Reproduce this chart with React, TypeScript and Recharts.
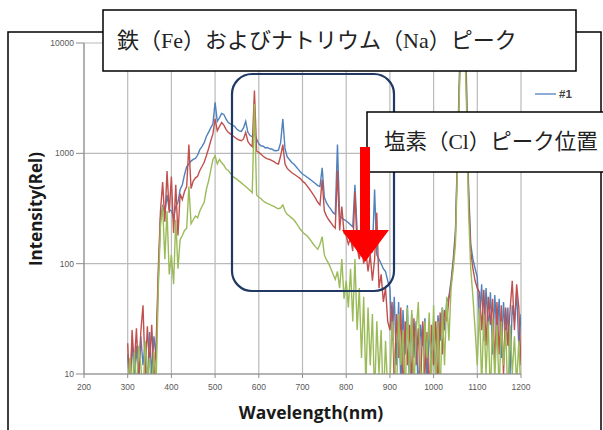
import React from 'react';
import { LineChart, Line, XAxis, YAxis, CartesianGrid } from 'recharts';

const wavelength = [
  300, 305, 310, 315, 320, 325, 330, 335, 340, 345,
  350, 355, 360, 365, 370, 375, 380, 385, 390, 395,
  400, 405, 410, 415, 420, 425, 430, 435, 440, 445,
  450, 455, 460, 465, 470, 475, 480, 485, 490, 495,
  500, 505, 510, 515, 520, 525, 530, 535, 540, 545,
  550, 555, 560, 565, 570, 575, 580, 585, 590, 595,
  600, 605, 610, 615, 620, 625, 630, 635, 640, 645,
  650, 655, 660, 665, 670, 675, 680, 685, 690, 695,
  700, 705, 710, 715, 720, 725, 730, 735, 740, 745,
  750, 755, 760, 765, 770, 775, 780, 785, 790, 795,
  800, 805, 810, 815, 820, 825, 830, 835, 840, 845,
  850, 855, 860, 865, 870, 875, 880, 885, 890, 895,
  900, 905, 910, 915, 920, 925, 930, 935, 940, 945,
  950, 955, 960, 965, 970, 975, 980, 985, 990, 995,
  1000, 1005, 1010, 1015, 1020, 1025, 1030, 1035, 1040, 1045,
  1050, 1055, 1060, 1065, 1070, 1075, 1080, 1085, 1090, 1095,
  1100, 1105, 1110, 1115, 1120, 1125, 1130, 1135, 1140, 1145,
  1150, 1155, 1160, 1165, 1170, 1175, 1180, 1185, 1190, 1195,
  1200,
];

const series1 = [
  15, 7, 20, 9, 18, 8, 22, 12, 19, 8,
  24, 10, 22, 14, 70, 260, 330, 290, 420, 310,
  300, 260, 330, 360, 470, 520, 640, 760, 800, 850,
  880, 900, 960, 1080, 1150, 1250, 1420, 1550, 1700, 1850,
  2900, 1950, 2100, 2300, 2250, 2050, 1900, 1850, 1800, 1750,
  1650, 1600, 1580, 1700, 1950, 1550, 1450, 1420, 1500, 1350,
  1220, 1170, 1160, 1120, 1130, 1100, 1095, 1060, 1055, 1070,
  1250, 2050, 1100, 930, 880, 830, 800, 760, 720, 680,
  650, 630, 610, 590, 570, 550, 530, 510, 500, 740,
  400, 355, 330, 310, 290, 280, 1200, 270, 260, 250,
  245, 235, 225, 215, 520, 200, 190, 175, 165, 160,
  150, 140, 130, 470, 120, 110, 100, 90, 85, 70,
  60, 20, 50, 12, 45, 8, 38, 15, 42, 7,
  35, 14, 30, 6, 28, 18, 32, 8, 26, 12,
  30, 9, 34, 20, 40, 25, 45, 50, 70, 110,
  200, 1200, 7000, 40000, 20000, 5000, 500, 150, 110, 90,
  75, 30, 65, 20, 60, 25, 55, 15, 52, 22,
  48, 14, 45, 20, 40, 10, 42, 30, 55, 18,
  35,
];

const series2 = [
  19, 6, 25, 12, 26, 9, 24, 42, 10, 27,
  12, 28, 9, 18, 90, 300, 550, 240, 690, 290,
  615, 190, 520, 180, 430, 380, 450, 500, 1200, 480,
  560, 600, 620, 700, 760, 830, 950, 1100, 1300, 1500,
  2050, 1600, 1750, 1900, 1800, 1650, 1550, 1500, 1450, 1400,
  1350, 1320, 1300, 1350, 1550, 1280, 1200, 1150, 3700, 1050,
  1020, 980, 940, 910, 890, 880, 860, 840, 810, 800,
  950, 1200, 800, 730, 700, 670, 650, 630, 610, 590,
  560, 540, 510, 480, 450, 420, 390, 360, 340, 580,
  300, 270, 250, 235, 220, 210, 700, 200, 330, 190,
  180, 150, 170, 130, 450, 140, 110, 150, 100, 130,
  85, 120, 70, 110, 290, 60, 80, 45, 60, 30,
  25, 45, 8, 35, 14, 40, 6, 30, 12, 28,
  8, 32, 12, 26, 7, 30, 10, 24, 6, 28,
  12, 30, 7, 36, 15, 38, 30, 48, 65, 100,
  180, 1000, 6000, 35000, 18000, 4000, 420, 130, 90, 70,
  60, 55, 25, 58, 18, 50, 28, 48, 12, 45,
  15, 42, 10, 40, 18, 38, 70, 25, 65, 40,
  12,
];

const series3 = [
  8, 14, 6, 16, 7, 18, 12, 6, 20, 9,
  14, 6, 16, 8, 60, 220, 330, 110, 300, 80,
  120, 65, 250, 90, 165, 180, 200, 210, 500, 230,
  250, 270, 260, 300, 330, 360, 470, 560, 700, 880,
  950, 800, 880, 820, 780, 720, 700, 660, 620, 600,
  580, 560, 540, 520, 500, 480, 460, 440, 2800, 420,
  400, 390, 370, 360, 350, 345, 335, 330, 320, 315,
  320, 340, 300, 280, 270, 260, 250, 235, 220, 205,
  195, 185, 180, 170, 160, 150, 142, 135, 150, 176,
  120, 108, 100, 90, 80, 72, 85, 60, 110, 48,
  70, 40, 90, 30, 110, 25, 60, 14, 50, 8,
  40, 12, 35, 6, 30, 10, 25, 5, 20, 7,
  8, 30, 14, 6, 35, 12, 25, 6, 40, 10,
  38, 7, 24, 45, 10, 6, 30, 14, 36, 8,
  42, 8, 30, 6, 40, 12, 50, 20, 60, 90,
  150, 900, 5000, 30000, 15000, 3000, 300, 90, 50, 25,
  12, 40, 8, 35, 10, 30, 6, 32, 9, 28,
  7, 30, 12, 25, 6, 28, 10, 22, 8, 20,
  6,
];

const xTicks = [200, 300, 400, 500, 600, 700, 800, 900, 1000, 1100, 1200];
const yTicks = [10, 100, 1000, 10000];

const titleText = '鉄（Fe）およびナトリウム（Na）ピーク';
const clText = '塩素（Cl）ピーク位置';
const legendText = '#1';
const xTitle = 'Wavelength(nm)';
const yTitle = 'Intensity(Rel)';

const data = wavelength.map((nm, i) => ({
  nm,
  s1: series1[i],
  s2: series2[i],
  s3: series3[i],
}));

const tickStyle = { fontSize: 8.5, fill: '#595959', fontFamily: "'Liberation Sans', Arial, sans-serif" };
const jpFont = "'Liberation Serif', 'Noto Sans CJK JP', serif";

export default function App() {
  return (
    <div style={{ position: 'absolute', left: 0, top: 0, width: 603, height: 430, background: '#fff', overflow: 'hidden' }}>
      <LineChart width={603} height={430} data={data} margin={{ top: 43, right: 82, bottom: 0, left: 24 }}>
        <CartesianGrid stroke="#BABABA" strokeWidth={1.2} />
        <XAxis
          dataKey="nm"
          type="number"
          domain={[200, 1200]}
          ticks={xTicks}
          interval={0}
          allowDataOverflow
          height={56}
          tickSize={4}
          tickMargin={6}
          stroke="#8C8C8C"
          tick={tickStyle}
        />
        <YAxis
          type="number"
          scale="log"
          domain={[10, 10000]}
          ticks={yTicks}
          interval={0}
          allowDataOverflow
          width={60}
          tickSize={8}
          tickMargin={2}
          stroke="#8C8C8C"
          tick={tickStyle}
        />
        <Line type="linear" dataKey="s1" stroke="#4F81BD" strokeWidth={1.4} dot={false} isAnimationActive={false} />
        <Line type="linear" dataKey="s2" stroke="#C0504D" strokeWidth={1.4} dot={false} isAnimationActive={false} />
        <Line type="linear" dataKey="s3" stroke="#9BBB59" strokeWidth={1.4} dot={false} isAnimationActive={false} />
      </LineChart>
      <svg width={603} height={430} style={{ position: 'absolute', left: 0, top: 0, pointerEvents: 'none' }}>
        <rect x={8} y={32} width={593} height={420} fill="none" stroke="#000" strokeWidth={1.5} />
        <text x={311} y={412} textAnchor="middle" dominantBaseline="central" fontSize={17.5} fontWeight={700} fontFamily="'Open Sans', sans-serif" fill="#1a1a1a">{xTitle}</text>
        <text x={35} y={209} textAnchor="middle" dominantBaseline="central" fontSize={17} fontWeight={700} fontFamily="'Open Sans', sans-serif" fill="#1a1a1a" transform="rotate(-90 35 209)">{yTitle}</text>
        <line x1={535} y1={94} x2={556} y2={94} stroke="#4F81BD" strokeWidth={1.3} />
        <text x={559} y={94} dominantBaseline="central" fontSize={11.5} fontWeight={700} fontFamily="'Liberation Sans', sans-serif" fill="#404040">{legendText}</text>
        <rect x={232} y={74} width={162} height={217} rx={20} ry={20} fill="none" stroke="#203864" strokeWidth={2.2} />
        <rect x={103} y={10} width={473} height={61} fill="#fff" stroke="#000" strokeWidth={1.5} />
        <text x={117} y={40} dominantBaseline="central" fontSize={22} fontFamily={jpFont} fill="#222">{titleText}</text>
        <rect x={367} y={112} width={250} height={60} fill="#fff" stroke="#000" strokeWidth={1.5} />
        <text x={384} y={142} dominantBaseline="central" fontSize={21.5} fontFamily={jpFont} fill="#222">{clText}</text>
        <polygon points="360,147 370,147 370,230 389,230 365,262 342,230 360,230" fill="#FF0000" />
      </svg>
    </div>
  );
}
